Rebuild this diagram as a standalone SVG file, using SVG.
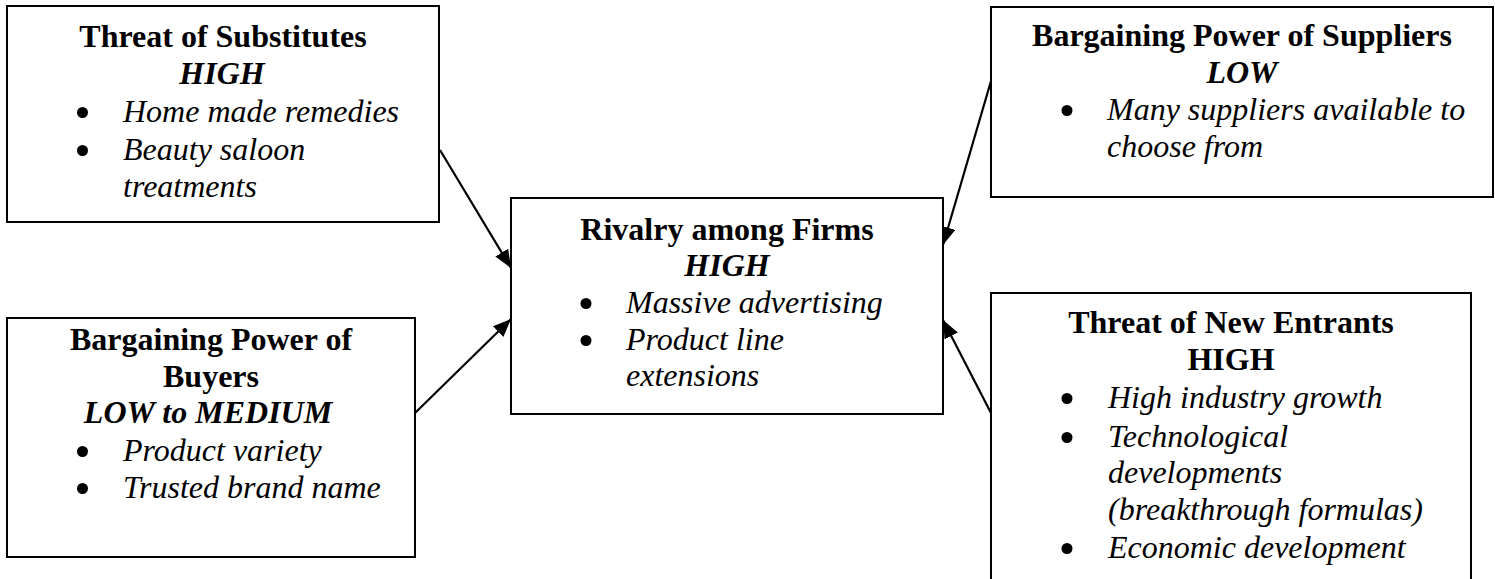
<svg xmlns="http://www.w3.org/2000/svg" width="1495" height="579" viewBox="0 0 1495 579">
  <style>
    .box { fill: #ffffff; stroke: #000000; stroke-width: 2; }
    .link { fill: none; stroke: #000000; stroke-width: 2.2; }
    .dot { fill: #000000; }
    text { font-family: "Liberation Serif", "Times New Roman", serif; font-size: 32px; fill: #000000; }
    .title { font-weight: bold; text-anchor: middle; }
    .level { font-weight: bold; font-style: italic; text-anchor: middle; }
    .item { font-style: italic; }
  </style>
  <defs>
    <marker id="arrow" markerUnits="userSpaceOnUse" markerWidth="20" markerHeight="16" refX="18" refY="7.5" orient="auto">
      <path d="M0,0 L18,7.5 L0,15 Z" fill="#000000"/>
    </marker>
  </defs>

  <!-- Connectors: each outer force points into the central rivalry box -->
  <g id="connectors">
    <line class="link" x1="440" y1="150" x2="511" y2="268" marker-end="url(#arrow)"/>
    <line class="link" x1="991" y1="81" x2="943" y2="245" marker-end="url(#arrow)"/>
    <line class="link" x1="415" y1="413" x2="511" y2="319" marker-end="url(#arrow)"/>
    <line class="link" x1="991" y1="413" x2="943" y2="320" marker-end="url(#arrow)"/>
  </g>

  <g id="substitutes">
    <rect class="box" x="7" y="6" width="432" height="216"/>
    <text class="title" x="223" y="47">Threat of Substitutes</text>
    <text class="level" x="222" y="84">HIGH</text>
    <circle class="dot" cx="82.5" cy="112.5" r="5.5"/>
    <text class="item" x="123" y="122">Home made remedies</text>
    <circle class="dot" cx="82.5" cy="150.5" r="5.5"/>
    <text class="item" x="123" y="160">Beauty saloon</text>
    <text class="item" x="123" y="197">treatments</text>
  </g>

  <g id="suppliers">
    <rect class="box" x="991" y="7" width="502" height="190"/>
    <text class="title" x="1242" y="46">Bargaining Power of Suppliers</text>
    <text class="level" x="1242" y="83">LOW</text>
    <circle class="dot" cx="1067" cy="110.5" r="5.5"/>
    <text class="item" x="1107" y="120">Many suppliers available to</text>
    <text class="item" x="1107" y="157">choose from</text>
  </g>

  <g id="rivalry">
    <rect class="box" x="511" y="198" width="432" height="216"/>
    <text class="title" x="727" y="240">Rivalry among Firms</text>
    <text class="level" x="727" y="276">HIGH</text>
    <circle class="dot" cx="586" cy="303.5" r="5.5"/>
    <text class="item" x="626" y="313">Massive advertising</text>
    <circle class="dot" cx="586" cy="340.5" r="5.5"/>
    <text class="item" x="626" y="350">Product line</text>
    <text class="item" x="626" y="386">extensions</text>
  </g>

  <g id="buyers">
    <rect class="box" x="7" y="318" width="408" height="239"/>
    <text class="title" x="211" y="350">Bargaining Power of</text>
    <text class="title" x="211" y="387">Buyers</text>
    <text class="level" x="208" y="423">LOW to MEDIUM</text>
    <circle class="dot" cx="82.5" cy="451.5" r="5.5"/>
    <text class="item" x="123" y="461">Product variety</text>
    <circle class="dot" cx="82.5" cy="488.5" r="5.5"/>
    <text class="item" x="123" y="498">Trusted brand name</text>
  </g>

  <g id="entrants">
    <rect class="box" x="991" y="293" width="480" height="300"/>
    <text class="title" x="1231" y="333">Threat of New Entrants</text>
    <text class="title" x="1231" y="370">HIGH</text>
    <circle class="dot" cx="1067" cy="398.5" r="5.5"/>
    <text class="item" x="1108" y="408">High industry growth</text>
    <circle class="dot" cx="1067" cy="437.5" r="5.5"/>
    <text class="item" x="1108" y="447">Technological</text>
    <text class="item" x="1108" y="483">developments</text>
    <text class="item" x="1108" y="520">(breakthrough formulas)</text>
    <circle class="dot" cx="1067" cy="548.5" r="5.5"/>
    <text class="item" x="1108" y="558">Economic development</text>
  </g>
</svg>
